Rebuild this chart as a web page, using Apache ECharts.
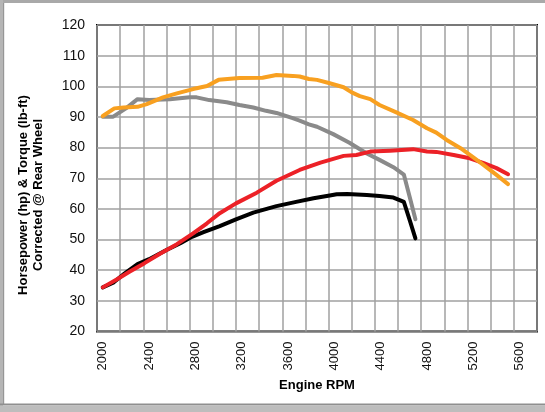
<!DOCTYPE html>
<html>
<head>
<meta charset="utf-8">
<script src="https://cdn.jsdelivr.net/npm/echarts@6/dist/echarts.min.js"></script>
<style>
  html, body { margin: 0; padding: 0; background: #fff; }
  #chart { width: 545px; height: 412px; }
</style>
</head>
<body>
<div id="chart"></div>
<script>
// ---- data ----
const xTickLabels = [2000, 2400, 2800, 3200, 3600, 4000, 4400, 4800, 5200, 5600];
const yTicks = [20, 30, 40, 50, 60, 70, 80, 90, 100, 110, 120];

const orangeRpm = [2000, 2100, 2180, 2300, 2380, 2520, 2640, 2780, 2900, 3000, 3180, 3380, 3500, 3640, 3700, 3780, 3850, 3960, 4080, 4150, 4220, 4310, 4390, 4540, 4680, 4800, 4880, 4970, 5090, 5200, 5290, 5400, 5500];
const orangeVal = [90.3, 92.8, 93.1, 93.3, 94.2, 96.4, 97.7, 99.1, 100.1, 102.1, 102.7, 102.8, 103.7, 103.4, 103.2, 102.4, 102.1, 101.0, 99.7, 98.0, 96.8, 95.8, 93.9, 91.4, 89.0, 86.3, 84.9, 82.5, 79.8, 76.8, 74.3, 71.1, 68.1];

const grayRpm = [2000, 2090, 2200, 2300, 2400, 2580, 2750, 2810, 2920, 3070, 3180, 3300, 3410, 3500, 3640, 3700, 3780, 3850, 3990, 4130, 4280, 4390, 4510, 4600, 4650, 4700];
const grayVal = [90.1, 90.1, 92.8, 95.8, 95.5, 95.8, 96.4, 96.4, 95.5, 94.8, 93.9, 93.1, 92.0, 91.3, 89.6, 88.8, 87.6, 86.8, 84.4, 81.6, 78.1, 76.0, 73.6, 71.2, 64.0, 56.6];

const blackRpm = [2000, 2090, 2190, 2300, 2400, 2550, 2670, 2770, 2870, 3010, 3150, 3300, 3500, 3670, 3820, 3960, 4020, 4110, 4280, 4390, 4510, 4600, 4650, 4700];
const blackVal = [34.4, 35.9, 39.0, 42.0, 43.6, 46.6, 48.8, 50.9, 52.4, 54.4, 56.6, 58.8, 60.9, 62.3, 63.5, 64.4, 64.8, 64.9, 64.5, 64.2, 63.7, 62.3, 56.4, 50.4];

const redRpm = [2000, 2120, 2230, 2360, 2490, 2640, 2780, 2900, 3010, 3150, 3330, 3500, 3700, 3880, 4080, 4190, 4310, 4480, 4680, 4800, 4880, 5030, 5170, 5290, 5400, 5500];
const redVal = [34.4, 37.0, 39.5, 42.3, 45.3, 48.5, 52.0, 55.3, 58.6, 61.8, 65.3, 69.2, 72.7, 75.1, 77.3, 77.6, 78.7, 79.0, 79.5, 78.7, 78.6, 77.6, 76.5, 74.9, 73.3, 71.3];

const yTitle = 'Horsepower (hp) & Torque (lb-ft)\nCorrected @ Rear Wheel';
const xTitle = 'Engine RPM';

function pairs(xs, ys) { return xs.map((x, i) => [x, ys[i]]); }

const FONT = "'Liberation Sans', Arial, Helvetica, sans-serif";
const chart = echarts.init(document.getElementById('chart'), null, { renderer: 'canvas' });

function lineSeries(name, xs, ys, color) {
  return {
    name: name,
    type: 'line',
    xAxisIndex: 0,
    yAxisIndex: 0,
    data: pairs(xs, ys),
    showSymbol: false,
    symbol: 'none',
    animation: false,
    lineStyle: { color: color, width: 4, cap: 'round', join: 'round' }
  };
}

chart.setOption({
  animation: false,
  backgroundColor: '#ffffff',
  grid: {
    left: 97, top: 25, width: 440, height: 306.5,
    show: true, borderColor: '#000', borderWidth: 2, backgroundColor: 'transparent'
  },
  xAxis: [
    {
      type: 'value', min: 1950, max: 5750, interval: 200,
      axisLine: { show: false }, axisTick: { show: false },
      axisLabel: { show: false },
      splitLine: { show: true, lineStyle: { color: '#a0a0a0', width: 1.5 } }
    },
    {
      type: 'value', min: 1950, max: 5750, position: 'bottom',
      axisLine: { show: false }, axisTick: { show: false },
      splitLine: { show: false },
      axisLabel: {
        customValues: xTickLabels,
        formatter: function (v) { return String(v); },
        rotate: 90, margin: 10, fontSize: 13, color: '#111', fontFamily: FONT
      }
    }
  ],
  yAxis: {
    type: 'value', min: yTicks[0], max: yTicks[yTicks.length - 1], interval: 10,
    axisLine: { show: false }, axisTick: { show: false },
    axisLabel: { margin: 12, fontSize: 14, color: '#111', fontFamily: FONT },
    splitLine: { show: true, lineStyle: { color: '#a0a0a0', width: 1.5 } }
  },
  series: [
    lineSeries('gray', grayRpm, grayVal, '#8a8a8a'),
    lineSeries('black', blackRpm, blackVal, '#000000'),
    lineSeries('red', redRpm, redVal, '#ec2127'),
    lineSeries('orange', orangeRpm, orangeVal, '#f8a020')
  ],
  graphic: [
    { type: 'rect', shape: { x: 0, y: 0, width: 545, height: 3 }, style: { fill: '#a9a9a9' }, silent: true },
    { type: 'rect', shape: { x: 0, y: 0, width: 3, height: 412 }, style: { fill: '#b5b5b5' }, silent: true },
    { type: 'rect', shape: { x: 3, y: 3, width: 1.2, height: 401 }, style: { fill: '#969696' }, silent: true },
    { type: 'rect', shape: { x: 0, y: 403.5, width: 545, height: 2 }, style: { fill: '#8f8f8f' }, silent: true },
    { type: 'rect', shape: { x: 0, y: 405.5, width: 545, height: 6.5 }, style: { fill: '#bdbdbd' }, silent: true },
    {
      type: 'text', x: 31, y: 195, rotation: Math.PI / 2,
      style: {
        text: yTitle, font: 'bold 13px ' + FONT, fill: '#000',
        align: 'center', verticalAlign: 'middle', lineHeight: 14.5
      }
    },
    {
      type: 'text', x: 317, y: 385,
      style: {
        text: xTitle, font: 'bold 13px ' + FONT, fill: '#000',
        align: 'center', verticalAlign: 'middle'
      }
    }
  ]
});
</script>
</body>
</html>
